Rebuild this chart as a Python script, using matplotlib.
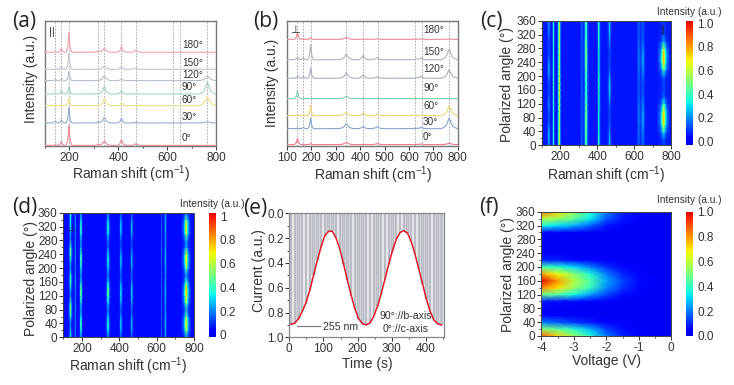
import numpy as np
import matplotlib
matplotlib.use("Agg")
import matplotlib.pyplot as plt
from matplotlib.colors import LinearSegmentedColormap
from matplotlib.ticker import MultipleLocator

plt.rcParams['font.family'] = ['Liberation Sans', 'DejaVu Sans']
plt.rcParams['mathtext.default'] = 'regular'
W, H = 734, 385
TXT = '#333333'
CMAP = LinearSegmentedColormap.from_list('jet_cut', plt.cm.jet(np.linspace(.08, .92, 256)))

# ---------- data ----------
ANGLE_LABELS = ['0°', '30°', '60°', '90°', '120°', '150°', '180°']
A_BASE = [0.005, 0.184, 0.323, 0.416, 0.523, 0.613, 0.75]
A_PEAKS = [142, 167, 198, 317, 343, 413, 472, 765]
A_WIDTH = [3, 3, 3, 4, 6, 4, 5, 8]
A_0 = [2, 12, 59, 3, 13, 18, 5, 0]
A_30 = [6, 10, 46, 2, 17, 15, 2, 4]
A_60 = [1, 3, 21, 1, 21, 9, 1, 28]
A_90 = [1, 13, 21, 1, 23, 11, 1, 36]
A_120 = [3, 5, 27, 1, 16, 5, 1, 15]
A_150 = [2, 12, 47, 1, 10, 10, 5, 1]
A_180 = [2, 12, 58, 3, 13, 18, 7, 0]

B_BASE = [0.011, 0.139, 0.243, 0.379, 0.542, 0.69, 0.853]
B_PEAKS = [143, 167, 197, 343, 412, 470, 630, 650, 765]
B_WIDTH = [3.5, 3, 3, 7, 5, 6, 4, 5, 8]
B_0 = [18, 1, 3, 7, 1, 3, 1, 2, 4]
B_30 = [1, 4, 30, 15, 7, 6, 1, 4, 32]
B_60 = [2, 1, 30, 10, 7, 5, 1, 2, 28]
B_90 = [23, 1, 1, 7, 1, 1, 0, 1, 1]
B_120 = [7, 6, 31, 16, 11, 4, 2, 6, 26]
B_150 = [7, 7, 45, 17, 13, 7, 3, 6, 32]
B_180 = [20, 1, 6, 6, 1, 2, 0, 2, 1]

A_COLORS = ['#ec8a96', '#94aed4', '#f0e08a', '#a0d8ba', '#b8bed2', '#c4c6d0', '#eea4b0']
B_COLORS = ['#ee7a88', '#86a6d2', '#ecd678', '#80d4a6', '#aaaec6', '#b2b4bc', '#ee8a98']
A_DASH = [142, 167, 198, 317, 343, 413, 473, 626, 654, 764]
B_DASH = [142, 167, 198, 343, 413, 472, 626, 652, 766]

ANGLES = list(range(0, 361, 20))
C_PEAKS = [142, 167, 198, 320, 343, 412, 470, 628, 650, 762]
C_WIDTH = [3.5, 2.5, 3, 3, 4, 3, 4, 4, 5, 9]
C_142 = [.18, .25, .26, .14, .10, .12, .20, .12, .08, .10, .18, .26, .20, .10, .08, .08, .14, .20, .18]
C_167 = [.36, .36, .36, .35, .34, .34, .34, .35, .36, .36, .36, .35, .34, .34, .34, .35, .36, .36, .36]
C_198 = [.74, .74, .74, .72, .70, .70, .74, .78, .82, .80, .76, .72, .70, .70, .72, .74, .76, .76, .74]
C_320 = [.13, .13, .12, .12, .12, .12, .12, .12, .12, .12, .12, .12, .12, .12, .12, .12, .12, .13, .13]
C_343 = [.50, .50, .52, .55, .56, .54, .50, .48, .46, .46, .48, .52, .55, .56, .54, .50, .46, .46, .50]
C_412 = [.42, .42, .40, .38, .36, .36, .38, .40, .42, .42, .40, .38, .36, .36, .38, .40, .42, .42, .42]
C_470 = [.22, .22, .14, .10, .08, .08, .12, .20, .26, .25, .18, .10, .08, .08, .10, .14, .22, .24, .22]
C_628 = [.12, .12, .13, .14, .16, .16, .14, .12, .10, .11, .13, .14, .16, .16, .14, .12, .11, .11, .12]
C_650 = [.12, .14, .16, .20, .22, .20, .16, .12, .10, .10, .14, .18, .22, .22, .16, .12, .10, .10, .12]
C_762 = [.06, .08, .30, .62, .74, .62, .34, .10, .06, .06, .10, .40, .70, .74, .55, .20, .07, .06, .06]

D_PEAKS = [142, 167, 198, 343, 412, 470, 630, 650, 762]
D_WIDTH = [3.5, 2, 2.5, 4, 3, 3, 2, 3, 7]
D_142 = [.32, .24, .12, .34, .56, .42, .14, .24, .44, .36, .14, .26, .50, .44, .14, .20, .28, .30, .32]
D_167 = [.22, .22, .20, .22, .24, .22, .18, .22, .26, .22, .18, .20, .24, .22, .18, .20, .24, .24, .22]
D_198 = [.24, .50, .66, .46, .24, .44, .68, .76, .42, .24, .46, .66, .60, .30, .26, .54, .60, .42, .24]
D_343 = [.14, .34, .44, .30, .14, .32, .50, .56, .32, .14, .28, .38, .32, .14, .14, .34, .44, .28, .14]
D_412 = [.12, .28, .36, .24, .12, .26, .38, .38, .24, .12, .24, .34, .28, .12, .12, .28, .36, .24, .12]
D_470 = [.10, .22, .28, .20, .10, .22, .30, .30, .20, .10, .22, .28, .24, .10, .10, .24, .30, .20, .10]
D_630 = [.10, .10, .10, .10, .10, .11, .11, .11, .10, .10, .10, .10, .12, .12, .10, .10, .10, .10, .10]
D_650 = [.20, .22, .24, .22, .18, .20, .24, .24, .20, .18, .20, .24, .24, .20, .18, .20, .24, .22, .20]
D_762 = [.12, .52, .72, .50, .16, .52, .72, .76, .42, .14, .46, .70, .66, .22, .18, .58, .72, .46, .12]

E_TIME = [5, 16, 27, 38, 49, 60, 71, 82, 93, 104, 115, 126, 137, 148, 159, 170, 181, 192, 203, 214, 225,
          236, 247, 258, 269, 280, 291, 302, 313, 324, 335, 346, 357, 368, 379, 390, 401, 412, 423, 434, 445]
E_CURRENT = [.895, .885, .85, .79, .72, .62, .50, .38, .27, .18, .145, .145, .20, .29, .41, .54, .66, .77, .85, .89, .90,
             .885, .83, .75, .65, .53, .41, .30, .21, .155, .14, .16, .23, .33, .45, .57, .69, .79, .86, .89, .90]

F_VOLT = [-4, -3.5, -3, -2.5, -2, -1.5, -1, -.5, 0]
F_000 = [.88, .72, .54, .38, .20, .10, .05, .03, .03]
F_020 = [.52, .46, .38, .27, .13, .07, .04, .03, .03]
F_040 = [.20, .16, .12, .08, .05, .04, .03, .03, .03]
F_060 = [.04, .04, .03, .03, .03, .03, .03, .03, .03]
F_080 = [.03, .03, .03, .03, .03, .03, .03, .03, .03]
F_100 = [.08, .07, .06, .05, .04, .03, .03, .03, .03]
F_120 = [.48, .43, .35, .24, .14, .07, .04, .03, .03]
F_140 = [.82, .70, .54, .40, .22, .12, .06, .03, .03]
F_160 = [1.0, .80, .58, .44, .25, .14, .07, .04, .03]
F_180 = [.78, .66, .52, .37, .20, .10, .05, .03, .03]
F_200 = [.44, .38, .31, .21, .11, .06, .04, .03, .03]
F_220 = [.10, .09, .07, .05, .04, .03, .03, .03, .03]
F_240 = [.03, .03, .03, .03, .03, .03, .03, .03, .03]
F_260 = [.03, .03, .03, .03, .03, .03, .03, .03, .03]
F_280 = [.03, .03, .03, .03, .03, .03, .03, .03, .03]
F_300 = [.06, .05, .04, .03, .03, .03, .03, .03, .03]
F_320 = [.36, .32, .26, .17, .08, .05, .03, .03, .03]
F_340 = [.58, .54, .46, .33, .16, .08, .04, .03, .03]
F_360 = [.86, .72, .54, .38, .20, .10, .05, .03, .03]

# ---------- helpers ----------
PROFILE_X = [-4.0, -2.0, -1.0, -.5, 0, .5, 1.0, 2.0, 4.0]
PROFILE_Y = [0, .2, .5, .8, 1, .8, .5, .2, 0]
GRID = np.arange(100, 801, 1.0)


def profile_sum(peaks, widths, heights):
    out = np.zeros_like(GRID)
    for c, w, h in zip(peaks, widths, heights):
        out += h * np.interp(GRID, np.array(PROFILE_X) * w + c, PROFILE_Y)
    return out


def axpx(l, t, r, b):
    return fig.add_axes([l / W, 1 - b / H, (r - l) / W, (b - t) / H])


def ftext(x, y, s, **kw):
    kw.setdefault('ha', 'center')
    kw.setdefault('va', 'center')
    kw.setdefault('color', TXT)
    fig.text(x / W, 1 - y / H, s, **kw)


def style(ax, color='#777777', lw=1.0):
    for s in ax.spines.values():
        s.set_color(color)
        s.set_linewidth(lw)
    ax.tick_params(which='major', labelsize=8.5, length=2.6, width=.7, pad=1.5,
                   colors=TXT)
    ax.tick_params(which='minor', length=1.5, width=.6, colors=TXT)


def spectra(ax, base, peaks, widths, table, colors, dashes, scale):
    for b, row, col in zip(base, table, colors):
        y = b + profile_sum(peaks, widths, row) / scale
        ax.plot(GRID, y, color=col, lw=.8, zorder=3)
    for d in dashes:
        ax.axvline(d, color='#999999', lw=.55, ls=(0, (2.2, 1.8)), zorder=2)
    ax.set_xlim(100, 800)
    ax.set_ylim(0, 1)
    ax.set_yticks([])
    ax.xaxis.set_minor_locator(MultipleLocator(100))


def cbar(l, t, r, b, ticks, labels, vmin, vmax):
    cax = axpx(l, t, r, b)
    g = np.linspace(vmin, vmax, 256)[:, None]
    cax.imshow(g, aspect='auto', origin='lower', cmap=CMAP, vmin=vmin, vmax=vmax,
               extent=[0, 1, vmin, vmax], interpolation='bilinear')
    cax.set_xticks([])
    cax.yaxis.tick_right()
    cax.set_yticks(ticks, labels)
    cax.tick_params(labelsize=8.5, length=0, pad=3.5, colors=TXT)
    for s in cax.spines.values():
        s.set_visible(False)


def heat(ax, x, y, z, vmin, vmax):
    m = ax.pcolormesh(x, y, z, cmap=CMAP, vmin=vmin, vmax=vmax,
                      shading='gouraud', rasterized=True)
    style(ax, '#444444', .7)
    return m


def raman_rows(peaks, widths, rows, floor):
    return np.array([floor + profile_sum(peaks, widths, col)
                     for col in np.array(rows).T])


RAMAN = 'Raman shift (cm$^{-1}$)'
fig = plt.figure(figsize=(W / 100, H / 100), dpi=100, facecolor='white')

# (a)
ax = axpx(45, 21, 216, 146)
spectra(ax, A_BASE, A_PEAKS, A_WIDTH, [A_0, A_30, A_60, A_90, A_120, A_150, A_180],
        A_COLORS, A_DASH, 375)
style(ax)
ax.set_xticks([200, 400, 600, 800])
ax.text(0.022, 0.915, '||', transform=ax.transAxes, fontsize=8, color='#333333',
        ha='left', va='center')
for yy, lab in zip([138, 117, 100, 87, 75, 63, 45], ANGLE_LABELS):
    ftext(182, yy, lab, ha='left', fontsize=7.2)

# (b)
ax = axpx(287, 21, 457.7, 146)
spectra(ax, B_BASE, B_PEAKS, B_WIDTH, [B_0, B_30, B_60, B_90, B_120, B_150, B_180],
        B_COLORS, B_DASH, 375)
style(ax)
ax.set_xticks(range(100, 801, 100))
ax.text(0.015, 0.925, '⊥', transform=ax.transAxes, fontsize=8, color='#333333',
        ha='left', va='center', family='DejaVu Sans')
for yy, lab in zip([137, 122, 106, 88, 69, 52, 30], ANGLE_LABELS):
    ftext(423, yy, lab, ha='left', fontsize=7.2)

# (c)
ax = axpx(541.7, 20.7, 671.3, 145.3)
Zc = raman_rows(C_PEAKS, C_WIDTH,
                [C_142, C_167, C_198, C_320, C_343, C_412, C_470, C_628, C_650, C_762], .05)
m = heat(ax, GRID, ANGLES, Zc, -.034, 1.023)
ax.set_xlim(100, 800); ax.set_ylim(0, 360)
ax.set_xticks([200, 400, 600, 800]); ax.set_yticks(range(0, 361, 40))
ax.xaxis.set_minor_locator(MultipleLocator(100)); ax.yaxis.set_minor_locator(MultipleLocator(20))
ax.text(0.93, 0.925, '||', transform=ax.transAxes, fontsize=7, color='#222244', ha='center', va='center')
cbar(686, 20.7, 692.5, 145.3, [0, .2, .4, .6, .8, 1],
     ['0.0', '0.2', '0.4', '0.6', '0.8', '1.0'], -.034, 1.023)

# (d)
ax = axpx(63.3, 212.7, 194, 337.3)
Zd = raman_rows(D_PEAKS, D_WIDTH,
                [D_142, D_167, D_198, D_343, D_412, D_470, D_630, D_650, D_762], .05)
m = heat(ax, GRID, ANGLES, Zd, -.02, 1.03)
ax.set_xlim(100, 800); ax.set_ylim(0, 360)
ax.set_xticks([200, 400, 600, 800]); ax.set_yticks(range(0, 361, 40))
ax.xaxis.set_minor_locator(MultipleLocator(100)); ax.yaxis.set_minor_locator(MultipleLocator(20))
ax.text(0.06, 0.88, '⊥', transform=ax.transAxes, fontsize=7, color='#222244', ha='center',
        va='center', family='DejaVu Sans')
cbar(208.7, 212.7, 215, 337.3, [0, .2, .4, .6, .8, 1],
     ['0', '0.2', '0.4', '0.6', '0.8', '1'], -.02, 1.03)

# (e)
ax = axpx(289.3, 213.3, 444.3, 337.3)
ax.bar(E_TIME, E_CURRENT, width=7, facecolor='#c6c8d0', edgecolor='#9c9ca8', linewidth=.35, zorder=1)
ax.plot(E_TIME, E_CURRENT, color='#e0202e', lw=1.15, zorder=3)
ax.set_xlim(0, 453.6); ax.set_ylim(1, 0)
ax.set_xticks(range(0, 401, 100)); ax.set_yticks([0, .2, .4, .6, .8, 1.0])
ax.xaxis.set_minor_locator(MultipleLocator(50)); ax.yaxis.set_minor_locator(MultipleLocator(.1))
style(ax, '#888888', .9)
fig.add_artist(plt.Line2D([297 / W, 320 / W], [1 - 326 / H] * 2, color='#777777', lw=.8))
ftext(341, 326.5, '255 nm', fontsize=7.6)
ftext(406, 316, '90°://b-axis', fontsize=7.6)
ftext(406, 329.5, '0°://c-axis', fontsize=7.6)

# (f)
ax = axpx(541.3, 211.7, 671.3, 336)
Zf = np.array([F_000, F_020, F_040, F_060, F_080, F_100, F_120, F_140, F_160, F_180,
               F_200, F_220, F_240, F_260, F_280, F_300, F_320, F_340, F_360])
m = heat(ax, F_VOLT, ANGLES, Zf, 0, 1)
ax.set_xlim(-4, 0); ax.set_ylim(0, 360)
ax.set_xticks([-4, -3, -2, -1, 0], ['-4', '-3', '-2', '-1', '0']); ax.set_yticks(range(0, 361, 40))
ax.xaxis.set_minor_locator(MultipleLocator(.5)); ax.yaxis.set_minor_locator(MultipleLocator(20))
cbar(686, 211.7, 692.5, 336, [0, .2, .4, .6, .8, 1],
     ['0.0', '0.2', '0.4', '0.6', '0.8', '1.0'], 0, 1)

# axis titles
LAB = 10
ftext(131, 174, RAMAN, fontsize=LAB)
ftext(31, 79, 'Intensity (a.u.)', fontsize=LAB, rotation=90)
ftext(373, 175, RAMAN, fontsize=LAB)
ftext(272, 83, 'Intensity (a.u.)', fontsize=LAB, rotation=90)
ftext(606, 175, RAMAN, fontsize=LAB)
ftext(507, 84, 'Polarized angle (°)', fontsize=LAB, rotation=90)
ftext(128, 366, RAMAN, fontsize=LAB)
ftext(31, 278, 'Polarized angle (°)', fontsize=LAB, rotation=90)
ftext(367, 364, 'Time (s)', fontsize=LAB)
ftext(259, 271, 'Current (a.u.)', fontsize=LAB, rotation=90)
ftext(606, 361, 'Voltage (V)', fontsize=LAB)
ftext(508, 274, 'Polarized angle (°)', fontsize=LAB, rotation=90)
for x, y in [(689, 12), (212, 204), (689, 200)]:
    ftext(x, y, 'Intensity (a.u.)', fontsize=7.3)

# panel letters
for x, y, s in [(12, 22, '(a)'), (253, 22, '(b)'), (480, 22, '(c)'),
                (12, 208, '(d)'), (243, 209, '(e)'), (479, 208, '(f)')]:
    ftext(x, y, s, ha='left', fontsize=15, family='Open Sans', color='#222222')

fig.savefig('out.png', dpi=100, facecolor='white')
